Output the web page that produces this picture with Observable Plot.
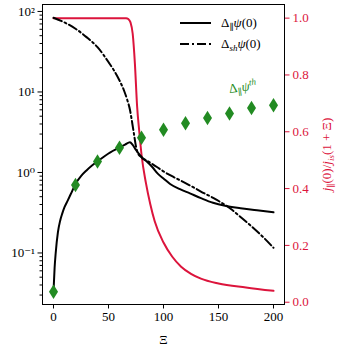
<!DOCTYPE html>
<html>
<head>
<meta charset="utf-8">
<script src="https://cdn.jsdelivr.net/npm/d3@7"></script>
<script src="https://cdn.jsdelivr.net/npm/@observablehq/plot@0.6"></script>
<style>
  body { margin: 0; background: #fff; }
  #wrap { position: relative; width: 337px; height: 350px; font-family: "Liberation Serif", "DejaVu Serif", serif; background: #fff; }
  #wrap svg { position: absolute; left: 0; top: 0; font-family: "Liberation Serif", "DejaVu Serif", serif !important; }
  #wrap svg text { font-family: "Liberation Serif", "DejaVu Serif", serif; }
  .legend { position: absolute; left: 180px; top: 12px; font-size: 13px; color: #000; }
  .legend .row { display: flex; align-items: center; height: 21px; }
  .legend svg { position: static !important; display: block; }
  .legend .lab { margin-left: 10px; white-space: nowrap; }
  .legend sub { font-size: 9px; vertical-align: -3px; line-height: 0; }
</style>
</head>
<body>
<div id="wrap"></div>
<script>
// ---------- data ----------
// Δ∥ψ(0)  (solid, left log axis)
const parXi  = [0, 1, 2, 4, 6, 8, 10, 13, 16, 20, 25, 30, 35, 40, 50, 60, 65, 69.5, 72, 75, 78, 81, 85, 90, 95, 100, 106, 115, 124, 134, 145, 156, 170, 185, 200];
const parVal = [0.033, 0.065, 0.1, 0.18, 0.25, 0.31, 0.37, 0.45, 0.55, 0.72, 0.9, 1.06, 1.22, 1.37, 1.72, 2.05, 2.22, 2.38, 2.2, 1.9, 1.68, 1.5, 1.36, 1.16, 0.96, 0.84, 0.72, 0.62, 0.55, 0.48, 0.42, 0.385, 0.36, 0.34, 0.32];
// Δshψ(0)  (dash-dot, left log axis)
const shXi  = [0, 10, 20, 30, 40, 50, 55, 60, 64, 67, 69.5, 71, 73, 75, 77, 80, 88, 94, 100, 109, 115, 124, 134, 148, 161, 170, 179, 190, 200];
const shVal = [83.5, 73, 61, 48, 36, 23.5, 18.5, 13.9, 10.5, 8, 6.0, 4.6, 3.1, 2.1, 1.7, 1.55, 1.32, 1.17, 1.03, 0.88, 0.8, 0.69, 0.58, 0.46, 0.354, 0.28, 0.22, 0.16, 0.116];
// Δ∥ψ^th  (green diamonds, left log axis)
const thXi  = [0, 20, 40, 60, 80, 100, 120, 140, 160, 180, 200];
const thVal = [0.033, 0.70, 1.37, 2.03, 2.70, 3.39, 4.08, 4.75, 5.4, 6.3, 6.85];
// j∥(0)/jis(1+Ξ)  (crimson, right linear axis)
const jXi  = [0, 60, 66, 68, 70, 72, 74, 76, 78, 80, 84, 88, 92, 100, 108, 116, 125, 134, 150, 175, 200];
const jVal = [1.0, 1.0, 1.0, 0.997, 0.985, 0.945, 0.84, 0.69, 0.6, 0.52, 0.42, 0.345, 0.285, 0.21, 0.16, 0.125, 0.1, 0.083, 0.066, 0.052, 0.04];

// ticks
const xTicks = [0, 50, 100, 150, 200];
const yMajor = [0.1, 1, 10, 100];
const yMajorLabels = ["10\u207B\u00B9", "10\u2070", "10\u00B9", "10\u00B2"];
const yMinor = [0.03,0.04,0.05,0.06,0.07,0.08,0.09, 0.2,0.3,0.4,0.5,0.6,0.7,0.8,0.9, 2,3,4,5,6,7,8,9, 20,30,40,50,60,70,80,90];
const rTicks = [0, 0.2, 0.4, 0.6, 0.8, 1.0];

// annotation anchor (data coordinates)
const annotXi = [172];
const annotVal = [11.5];

// ---------- tables ----------
const zip = (xs, vs) => xs.map((x, i) => ({xi: x, v: vs[i]}));
const parT = zip(parXi, parVal);
const shT = zip(shXi, shVal);
const thT = zip(thXi, thVal);
const jT = zip(jXi, jVal);
const annT = zip(annotXi, annotVal);

const W = 337, H = 350, mL = 42, mR = 53, mT = 4, mB = 46;
const xDomain = [-10, 210];
const CRIMSON = "#dc143c", GREEN = "#228b22";
const FONT = '"Liberation Serif", "DejaVu Serif", serif';
const font = {fontFamily: FONT, fontSize: "13px", background: "transparent", overflow: "visible"};

const thinDiamond = {
  draw(ctx, size) {
    const r = Math.sqrt(size / Math.PI);
    ctx.moveTo(0, -1.45 * r);
    ctx.lineTo(0.9 * r, 0);
    ctx.lineTo(0, 1.45 * r);
    ctx.lineTo(-0.9 * r, 0);
    ctx.closePath();
  }
};

// right-axis plot (bottom layer)
const plotR = Plot.plot({
  width: W, height: H, marginLeft: mL, marginRight: mR, marginTop: mT, marginBottom: mB,
  style: font,
  x: {domain: xDomain, axis: null},
  y: {type: "linear", domain: [-0.008, 1.048], axis: null},
  marks: [
    Plot.line(jT, {x: "xi", y: "v", stroke: CRIMSON, strokeWidth: 2, curve: "monotone-x"}),
    Plot.axisY({anchor: "right", ticks: rTicks, tickFormat: d => d.toFixed(1), tickSize: 4.5, tickPadding: 3.5,
                color: CRIMSON, stroke: CRIMSON, fill: CRIMSON, label: null}),
    Plot.text(["@RLABEL@"], {text: d => d, frameAnchor: "right", dx: 42, rotate: -90, fill: CRIMSON,
                             textAnchor: "middle", lineAnchor: "middle"})
  ]
});

// left-axis plot (top layer)
const plotL = Plot.plot({
  width: W, height: H, marginLeft: mL, marginRight: mR, marginTop: mT, marginBottom: mB,
  style: font,
  x: {domain: xDomain, axis: null},
  y: {type: "log", domain: [0.0229, 122], axis: null},
  marks: [
    Plot.line(shT, {x: "xi", y: "v", stroke: "black", strokeWidth: 2, strokeDasharray: "9,3,2,3", curve: "monotone-x"}),
    Plot.line(parT, {x: "xi", y: "v", stroke: "black", strokeWidth: 2, curve: "monotone-x"}),
    Plot.dot(thT, {x: "xi", y: "v", symbol: thinDiamond, r: 5, fill: GREEN, stroke: "none"}),
    Plot.text(annT, {x: "xi", y: "v", text: () => "@ANNOT@", fill: GREEN, rotate: -7}),
    Plot.axisX({ticks: xTicks, tickSize: 4.5, tickPadding: 3, label: null}),
    Plot.text(["\u039E"], {text: d => d, frameAnchor: "bottom", dy: 35, lineAnchor: "middle", textAnchor: "middle"}),
    Plot.axisY({anchor: "left", ticks: yMajor, tickFormat: d => yMajorLabels[yMajor.indexOf(d)], tickSize: 4.5, tickPadding: 3, label: null}),
    Plot.axisY({anchor: "left", ticks: yMinor, tickFormat: () => "", tickSize: 2.5, label: null}),
    Plot.frame({stroke: "black", strokeWidth: 1})
  ]
});

// rich text (sub/superscripts) as real SVG text
function rich(svg, marker, parts) {
  d3.select(svg).selectAll("text").filter(function () { return this.textContent === marker; }).each(function () {
    const t = d3.select(this);
    t.text(null);
    let shift = 0;
    for (const p of parts) {
      const target = p.sub ? 3.5 : p.sup ? -5 : 0;
      const s = t.append("tspan").text(p.t).attr("dy", target - shift);
      shift = target;
      if (p.sub || p.sup) s.attr("font-size", 9);
      if (p.it) s.attr("font-style", "italic");
    }
  });
}
rich(plotR, "@RLABEL@", [
  {t: "j", it: true}, {t: "\u2225", sub: true}, {t: "(0)/"}, {t: "j", it: true}, {t: "is", sub: true, it: true}, {t: "(1 + \u039E)"}
]);
rich(plotL, "@ANNOT@", [
  {t: "\u0394"}, {t: "\u2225", sub: true}, {t: "\u03C8", it: true}, {t: "th", sup: true, it: true}
]);

const wrap = document.getElementById("wrap");
wrap.appendChild(plotR);
wrap.appendChild(plotL);

// legend
const leg = document.createElement("div");
leg.className = "legend";
const legItems = [
  {dash: null, html: "\u0394<sub>\u2225</sub><i>\u03C8</i>(0)"},
  {dash: "9,3,2,3", html: "\u0394<sub><i>sh</i></sub><i>\u03C8</i>(0)"}
];
for (const it of legItems) {
  const row = document.createElement("div");
  row.className = "row";
  const s = d3.create("svg").attr("width", 31).attr("height", 4);
  s.append("line").attr("x1", 0).attr("x2", 31).attr("y1", 2).attr("y2", 2)
    .attr("stroke", "black").attr("stroke-width", 2).attr("stroke-dasharray", it.dash);
  row.appendChild(s.node());
  const lab = document.createElement("span");
  lab.className = "lab";
  lab.innerHTML = it.html;
  row.appendChild(lab);
  leg.appendChild(row);
}
wrap.appendChild(leg);
</script>
</body>
</html>
